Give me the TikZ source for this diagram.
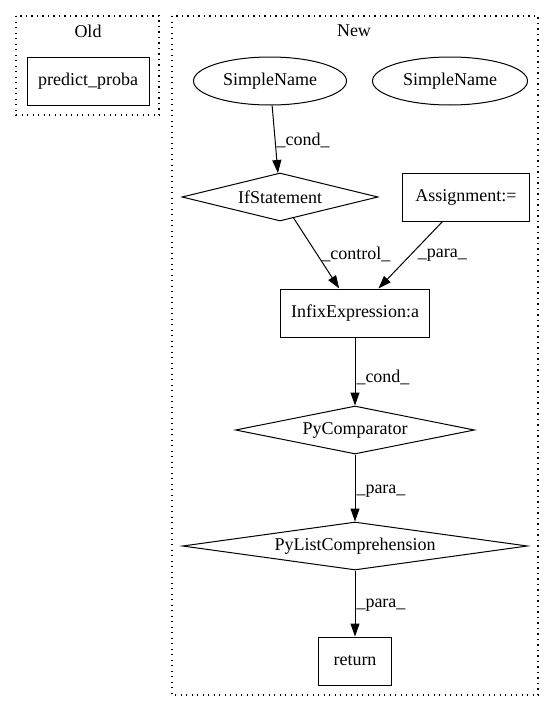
\documentclass[tikz,border=0pt]{standalone}
\usepackage{fontspec}
\setmainfont{Liberation Serif}
\usetikzlibrary{shapes.geometric,arrows.meta}
\begin{document}
\begin{tikzpicture}[x=1pt,y=-1pt,
  every node/.style={font=\fontsize{18pt}{21pt}\selectfont},
  box/.style={draw,line width=1pt,rectangle,minimum height=48pt,inner sep=0pt},
  oval/.style={draw,line width=1pt,ellipse,minimum height=48pt,inner sep=0pt},
  dia/.style={draw,line width=1pt,diamond,aspect=6,minimum height=48pt,inner sep=0pt},
  cluster/.style={line width=1.3pt,dash pattern=on 1.3pt off 4.2pt},
  conn/.style={line width=1pt,-{Triangle[length=13pt,width=9pt]}},
  elabel/.style={inner sep=1pt,anchor=west}]
\useasboundingbox (0,0) rectangle (555,712);
% clusters
\draw[cluster] (16,16) rectangle (159,115);
\node (oldlbl) at (88,31) {Old};
\draw[cluster] (172,16) rectangle (538,695);
\node (newlbl) at (354,31) {New};
% nodes
\node[box,minimum width=122pt] (pp) at (88,81) {predict\_proba};
\node[oval,minimum width=153pt] (sn1) at (270,81) {SimpleName};
\node[oval,minimum width=155pt] (sn2) at (450,81) {SimpleName};
\node[dia,minimum width=196pt] (ifs) at (280,197) {IfStatement};
\node[box,minimum width=127pt] (asg) at (466,197) {Assignment:=};
\node[box,minimum width=149pt] (inf) at (355,313) {InfixExpression:a};
\node[dia,minimum width=239pt] (cmp) at (355,430) {PyComparator};
\node[dia,minimum width=345pt] (lc) at (355,546) {PyListComprehension};
\node[box,minimum width=73pt] (ret) at (355,661) {return};
% edges
\draw[conn] (sn1) -- node[elabel,pos=0.51] {\_cond\_} (ifs);
\draw[conn] (ifs) -- node[elabel,pos=0.51,xshift=3pt] {\_control\_} (inf);
\draw[conn] (asg) -- node[elabel,pos=0.5,xshift=6pt] {\_para\_} (inf);
\draw[conn] (inf) -- node[elabel,pos=0.58] {\_cond\_} (cmp);
\draw[conn] (cmp) -- node[elabel,pos=0.54] {\_para\_} (lc);
\draw[conn] (lc) -- node[elabel,pos=0.53] {\_para\_} (ret);
\end{tikzpicture}
\end{document}
